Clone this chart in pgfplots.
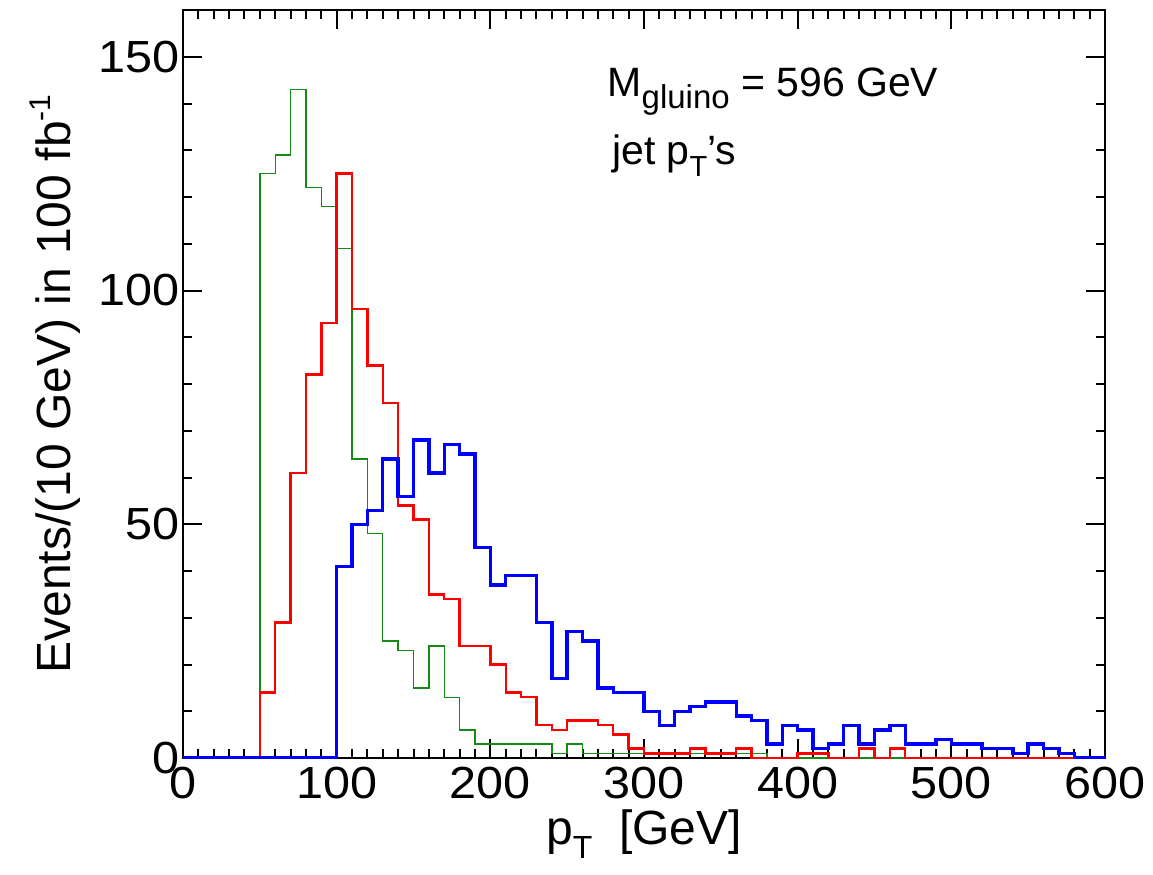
\documentclass[border=0pt]{standalone}
\usepackage{pgfplots}
\pgfplotsset{compat=1.18}
\usepackage{fontspec}
\setmainfont{Liberation Sans}
\newfontfamily\tickfont[FakeStretch=1.08]{Liberation Sans}
\definecolor{hgreen}{RGB}{20,140,20}
\newcommand{\lsub}[3]{\raisebox{#2}{\fontsize{#3}{#3}\selectfont #1}}
\begin{document}
\begin{tikzpicture}
\begin{axis}[name=ax,
  scale only axis, width=461pt, height=374pt,
  xmin=0, xmax=600, ymin=0, ymax=160,
  xtick={0,100,...,600}, ytick={0,50,100,150},
  minor x tick num=9, minor y tick num=4,
  tick align=inside,
  major tick length=9.5pt, minor tick length=4.5pt,
  every tick/.style={black, line width=1pt},
  axis line style={line width=1.4pt},
  /pgf/number format/assume math mode=true,
  ticklabel style={font=\tickfont\fontsize{22.5}{26}\selectfont},
  xticklabel style={yshift=-1pt},
  yticklabel style={xshift=2pt},
  label style={font=\fontsize{24}{28}\selectfont},
  xlabel={p\lsub{T}{-7pt}{16}\ \ [GeV]},
  ylabel={Events/(10 GeV) in 100 fb\lsub{-1}{10pt}{15}},
  xlabel style={at={(axis description cs:0.5,-0.116)}, anchor=base},
  ylabel style={at={(axis description cs:-0.122,0.5)}, anchor=base, rotate=0},
  clip=true,
]
\addplot[const plot, color=hgreen, line width=0.7pt] coordinates {
(0,0)(50,125)(60,129)(70,143)(80,122)(90,118)(100,109)(110,64)(120,48)(130,25)(140,23)(150,15)(160,24)(170,13)(180,6)(190,3)(240,1)(250,3)(260,1)(380,0)(600,0)};
\addplot[const plot, color=red, line width=1.2pt] coordinates {
(0,0)(50,14)(60,29)(70,61)(80,82)(90,93)(100,125)(110,96)(120,84)(130,76)(140,54)(150,51)(160,35)(170,34)(180,24)(200,20)(210,14)(220,13)(230,7)(240,6)(250,8)(270,7)(280,5)(290,2)(300,1)(330,2)(340,1)(360,2)(370,0)(400,1)(420,0)(440,2)(450,0)(460,2)(470,0)(600,0)};
\addplot[const plot, color=blue, line width=1.7pt] coordinates {
(0,0)(100,41)(110,50)(120,53)(130,64)(140,56)(150,68)(160,61)(170,67)(180,65)(190,45)(200,37)(210,39)(230,29)(240,17)(250,27)(260,25)(270,15)(280,14)(300,10)(310,7)(320,10)(330,11)(340,12)(360,9)(370,8)(380,3)(390,7)(400,6)(410,2)(420,3)(430,7)(440,3)(450,6)(460,7)(470,3)(490,4)(500,3)(520,2)(540,1)(550,3)(560,2)(570,1)(580,0)(600,0)};
\node[anchor=base west, font=\fontsize{20.5}{24}\selectfont, inner sep=0pt] at (axis cs:276,141.5) {M\lsub{gluino}{-6pt}{16.5} = 596 GeV};
\node[anchor=base west, font=\fontsize{20.5}{24}\selectfont, inner sep=0pt] at (axis cs:279,127) {jet p\lsub{T}{-6pt}{14.5}’s};
\end{axis}
\pgfresetboundingbox
\path ([shift={(-91.5pt,-58pt)}]ax.south west) rectangle ([shift={(24pt,5pt)}]ax.north east);
\end{tikzpicture}
\end{document}
